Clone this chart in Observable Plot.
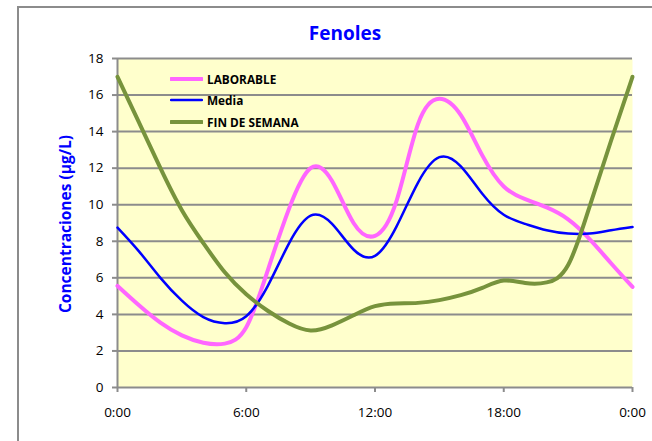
<!DOCTYPE html>
<html>
<head>
<meta charset="utf-8">
<script src="https://cdn.jsdelivr.net/npm/d3@7"></script>
<script src="https://cdn.jsdelivr.net/npm/@observablehq/plot@0.6"></script>
<style>
  body { margin: 0; background: #fff; }
  #wrap { position: relative; width: 652px; height: 441px; overflow: hidden; font-family: "Open Sans", sans-serif; }
  #border { position: absolute; left: 17px; top: 6px; width: 700px; height: 500px; border: 2px solid #8c8c8c; box-sizing: border-box; }
  #chart { position: absolute; left: 0; top: 0; }
  #legend { position: absolute; left: 170px; top: 68px; }
  .item { display: flex; align-items: center; height: 21.5px; font-weight: bold; font-size: 11.8px; color: #000; }
  .item svg { margin-right: 4px; }
</style>
</head>
<body>
<div id="wrap">
  <div id="border"></div>
  <div id="chart"></div>
  <div id="legend"></div>
</div>
<script>
// Hours of the day (0..24)
const hours = [0,1,2,3,4,5,6,7,8,9,10,11,12,13,14,15,16,17,18,19,20,21,22,23,24];
// Series values (µg/L)
const laborable   = [5.56,4.5,3.55,2.85,2.45,2.4,3.3,6.4,9.8,12.0,11.3,9.0,8.3,10.2,14.4,15.8,14.9,12.7,11.0,10.3,9.85,9.2,8.12,6.8,5.5];
const media       = [8.75,7.45,6.0,4.75,3.85,3.52,3.9,5.55,7.9,9.4,8.95,7.55,7.2,8.8,11.2,12.6,12.1,10.6,9.45,8.95,8.6,8.42,8.42,8.6,8.78];
const finDeSemana = [17.0,14.5,12.0,9.7,7.9,6.3,5.1,4.2,3.5,3.12,3.4,3.95,4.45,4.6,4.63,4.78,5.05,5.45,5.85,5.72,5.75,6.7,9.9,13.5,17.0];

const seriesNames  = ["LABORABLE", "Media", "FIN DE SEMANA"];
const seriesValues = [laborable, media, finDeSemana];
const seriesColors = ["#FF66FF", "#0000FF", "#77933C"];
const seriesWidths = [4, 2.5, 4];

const yTicks = [0,2,4,6,8,10,12,14,16,18];
const xTicks = [0,6,12,18,24];
const xTickLabels = ["0:00","6:00","12:00","18:00","0:00"];
const xLabelMap = new Map(xTicks.map((t,i) => [t, xTickLabels[i]]));

const titleText = "Fenoles";
const yLabelText = "Concentraciones (µg/L)";

const lineMarks = seriesValues.map((vals, s) =>
  Plot.line(hours.map((h, i) => ({h, v: vals[i]})), {
    x: "h", y: "v", stroke: seriesColors[s], strokeWidth: seriesWidths[s],
    curve: "natural"
  })
);

const chart = Plot.plot({
  width: 652, height: 441,
  marginLeft: 117, marginRight: 20, marginTop: 58, marginBottom: 54,
  style: { background: "transparent", fontFamily: "'Open Sans', sans-serif", fontSize: "13px", color: "#000" },
  x: { domain: [0, 24] },
  y: { domain: [0, 18] },
  marks: [
    Plot.frame({ fill: "#FFFFCC", stroke: null }),
    Plot.ruleY(yTicks.filter(v => v > 0), { stroke: "#8c8c8c", strokeWidth: 2 }),
    Plot.ruleX([0], { stroke: "#8c8c8c", strokeWidth: 2 }),
    Plot.ruleY([0], { stroke: "#8c8c8c", strokeWidth: 2 }),
    Plot.axisY(yTicks, { tickSize: 5, tickPadding: 9, stroke: "#8c8c8c", strokeWidth: 2, fill: "#000", fontSize: 13.5, label: null }),
    Plot.axisX(xTicks, { tickSize: 5, tickPadding: 15, stroke: "#8c8c8c", strokeWidth: 2, fill: "#000", fontSize: 13.5, label: null, tickFormat: d => xLabelMap.get(d) }),
    ...lineMarks,
    Plot.text([titleText], { frameAnchor: "top", textAnchor: "middle", lineAnchor: "middle", dy: -25, dx: -30, fill: "#0000FF", fontWeight: "bold", fontSize: 19 }),
    Plot.text([yLabelText], { frameAnchor: "left", textAnchor: "middle", lineAnchor: "middle", rotate: -90, dx: -51, dy: 1, fill: "#0000FF", fontWeight: "bold", fontSize: 15.5 })
  ]
});
document.getElementById("chart").appendChild(chart);

// Legend
const legend = document.getElementById("legend");
seriesNames.forEach((name, s) => {
  const item = document.createElement("div");
  item.className = "item";
  item.innerHTML = `<svg width="33" height="8"><line x1="1" y1="4" x2="32" y2="4" stroke="${seriesColors[s]}" stroke-width="${seriesWidths[s]}" stroke-linecap="round"/></svg><span>${name}</span>`;
  legend.appendChild(item);
});
</script>
</body>
</html>
